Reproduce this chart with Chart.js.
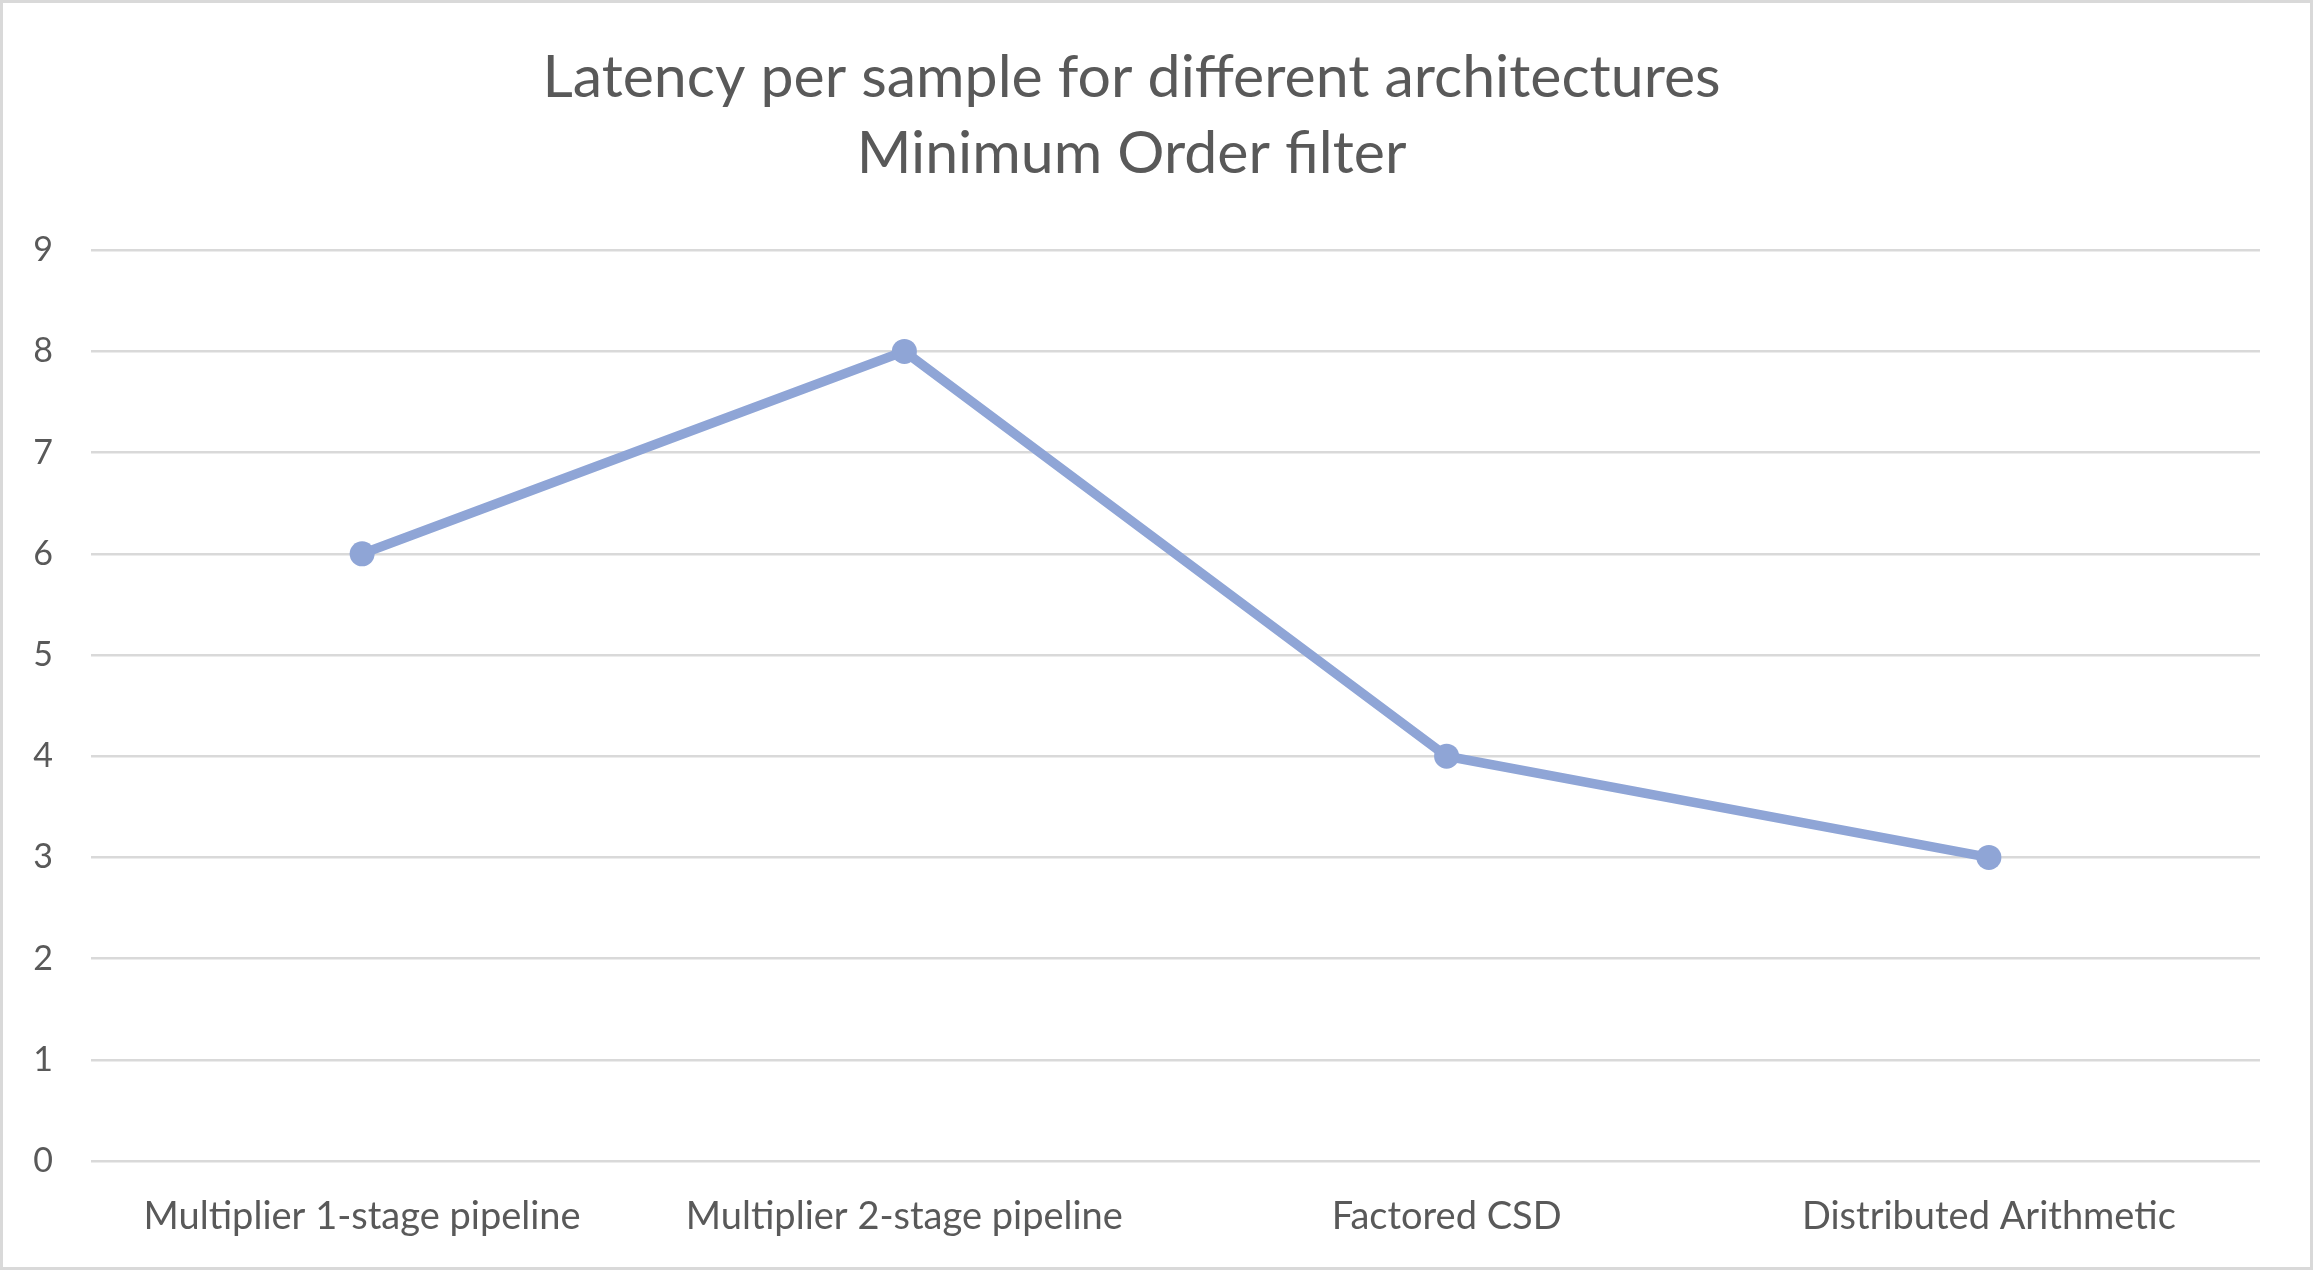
<!DOCTYPE html>
<html>
<head>
<meta charset="utf-8">
<script src="https://cdn.jsdelivr.net/npm/chart.js@4.4.0/dist/chart.umd.min.js"></script>
<style>
    html, body { margin: 0; padding: 0; background: #ffffff; }
    #frame {
        width: 2313px;
        height: 1270px;
        box-sizing: border-box;
        border: 3px solid #d9d9d9;
        background: #ffffff;
    }
    #latencyChart { display: block; }
</style>
</head>
<body>
<div id="frame">
    <canvas id="latencyChart" width="2307" height="1264"></canvas>
</div>
<script>
// --- Chart data ---
const titleLines = ['Latency per sample for different architectures', 'Minimum Order filter'];
const architectures = ['Multiplier 1-stage pipeline', 'Multiplier 2-stage pipeline', 'Factored CSD', 'Distributed Arithmetic'];
const latencyValues = [6, 8, 4, 3];
const yTicks = [0, 1, 2, 3, 4, 5, 6, 7, 8, 9];

const textColor = '#595959';
const gridColor = '#d9d9d9';
const lineColor = '#8fa5d6';
const fontFamily = 'Lato, "Open Sans", sans-serif';

const ctx = document.getElementById('latencyChart');

new Chart(ctx, {
    type: 'line',
    data: {
        labels: architectures,
        datasets: [{
            label: 'Latency',
            data: latencyValues,
            borderColor: lineColor,
            backgroundColor: lineColor,
            borderWidth: 9.5,
            pointRadius: 12.5,
            pointBorderWidth: 0,
            pointBackgroundColor: lineColor,
            tension: 0
        }]
    },
    options: {
        responsive: false,
        animation: false,
        layout: {
            padding: { left: 0, right: 50, top: 0, bottom: 0 }
        },
        plugins: {
            legend: { display: false },
            tooltip: { enabled: false },
            title: {
                display: true,
                text: titleLines,
                color: textColor,
                font: { family: fontFamily, size: 59, weight: 'normal', lineHeight: 1.29 },
                padding: { top: 37, bottom: 58 }
            }
        },
        scales: {
            x: {
                offset: true,
                grid: { display: false, drawTicks: false },
                border: { display: false },
                ticks: {
                    color: textColor,
                    padding: 33,
                    maxRotation: 0,
                    autoSkip: false,
                    font: { family: fontFamily, size: 38 }
                },
                afterFit: (scale) => { scale.height = 106; }
            },
            y: {
                min: 0,
                max: yTicks[yTicks.length - 1],
                afterBuildTicks: (scale) => { scale.ticks = yTicks.map(v => ({ value: v })); },
                grid: { color: gridColor, lineWidth: 2.5, drawTicks: false },
                border: { display: false },
                ticks: {
                    color: textColor,
                    padding: 38,
                    font: { family: fontFamily, size: 34 }
                },
                afterFit: (scale) => { scale.width = 88; }
            }
        }
    }
});
</script>
</body>
</html>
